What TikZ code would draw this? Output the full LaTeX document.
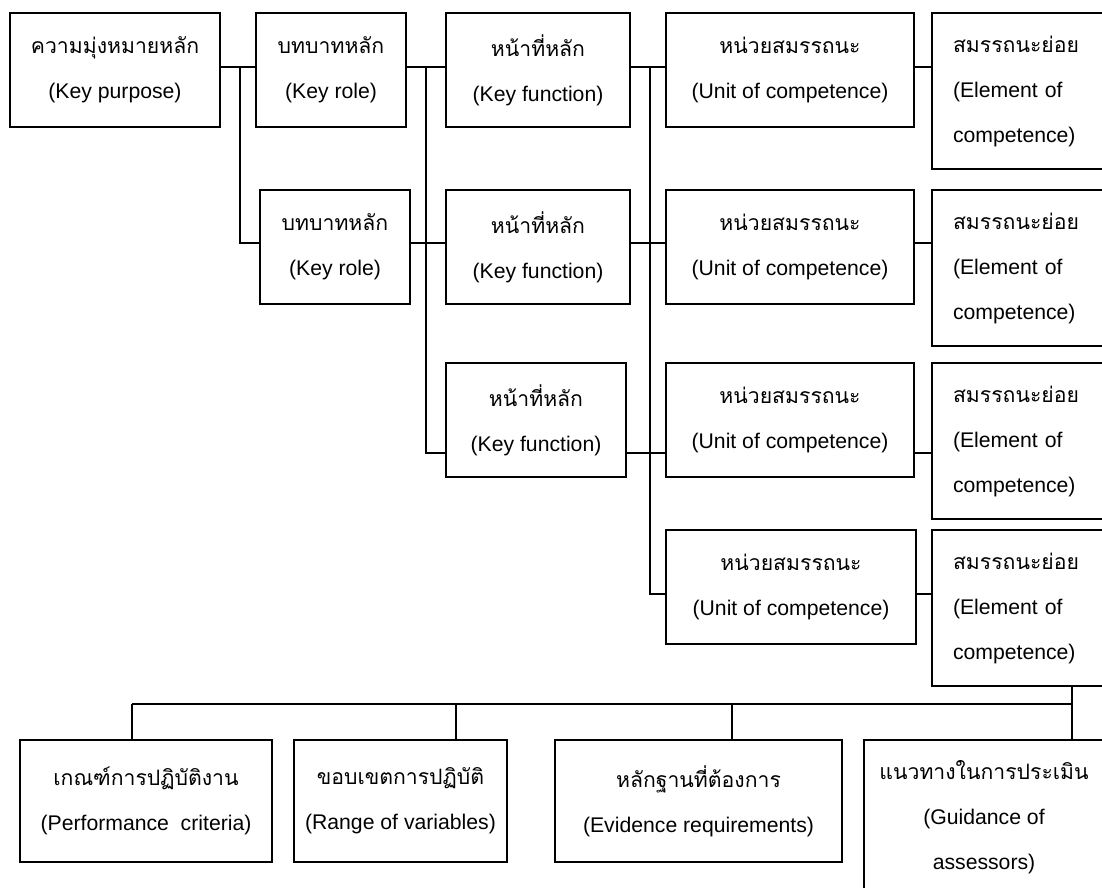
\documentclass[tikz,border=0pt]{standalone}
\usepackage{fontspec}
\setmainfont{Liberation Sans}
\newfontfamily\thaifont[Script=Thai]{Loma}
\usetikzlibrary{positioning}

\tikzset{
  box/.style={draw, line width=0.9pt, align=center, inner sep=0pt,
    font=\fontsize{10.6}{22.5}\selectfont},
  elbox/.style={box, align=left, text width=69pt, inner xsep=10.5pt,
    minimum width=90pt, minimum height=78pt},
  link/.style={line width=0.9pt}
}

\begin{document}
\begin{tikzpicture}[x=0.5pt,y=-0.5pt]
  \useasboundingbox (0,0) rectangle (1102,888);
  \clip (0,0) rectangle (1102,888);
  % Key purpose
  \node[box,minimum width=105pt,minimum height=57pt] (A) at (115,70)
    {{\thaifont ความมุ่งหมายหลัก}\\(Key purpose)};
  % Key roles
  \foreach \n/\x/\y in {R1/331/70, R2/335/247}{
    \node[box,minimum width=75pt,minimum height=57pt] (\n) at (\x,\y)
      {{\thaifont บทบาทหลัก}\\(Key role)};
  }
  % Key functions
  \foreach \n/\x/\y/\w in {F1/538/70/92, F2/538/247/92, F3/536/420/90}{
    \node[box,minimum width=\w pt,minimum height=57pt] (\n) at (\x,\y)
      {{\thaifont หน้าที่หลัก}\\(Key function)};
  }
  % Units of competence
  \foreach \n/\x/\y/\w in {U1/790/70/124, U2/790/247/124, U3/790/420/124, U4/791/587/125}{
    \node[box,minimum width=\w pt,minimum height=57pt] (\n) at (\x,\y)
      {{\thaifont หน่วยสมรรถนะ}\\(Unit of competence)};
  }
  % Elements of competence
  \foreach \n/\y in {E1/91, E2/268, E3/441, E4/608}{
    \node[elbox] (\n) at (1022,\y)
      {{\thaifont สมรรถนะย่อย}\\(Element of\\competence)};
  }
  % Bottom row
  \node[box,minimum width=126pt,minimum height=61pt] (B1) at (146,801)
    {{\thaifont เกณฑ์การปฏิบัติงาน}\\(Performance\ \ criteria)};
  \node[box,minimum width=106.5pt,minimum height=61pt] (B2) at (400.5,801)
    {{\thaifont ขอบเขตการปฏิบัติ}\\(Range of variables)};
  \node[box,minimum width=143.5pt,minimum height=61pt] (B3) at (698.5,801)
    {{\thaifont หลักฐานที่ต้องการ}\\(Evidence requirements)};
  \node[box,minimum width=120pt,minimum height=77pt] (B4) at (984,817)
    {{\thaifont แนวทางในการประเมิน}\\(Guidance of\\assessors)};

  % Rows and trunks
  \coordinate (y1) at (0,67);
  \coordinate (y2) at (0,243);
  \coordinate (y3) at (0,453);
  \coordinate (y4) at (0,594);
  \coordinate (t1) at (240,0);
  \coordinate (t2) at (426,0);
  \coordinate (t3) at (650,0);
  \coordinate (d1) at (132,704);
  \coordinate (d2) at (456,704);
  \coordinate (d3) at (732,704);
  \coordinate (d4) at (1072,704);

  % Connectors
  \draw[link] (A.east |- y1) -- (R1.west |- y1);
  \draw[link] (t1 |- y1) |- (R2.west |- y2);
  \draw[link] (t2 |- y1) |- (F3.west |- y3);
  \draw[link] (t3 |- y1) |- (U4.west |- y4);
  \foreach \a/\b/\r in {R1/F1/y1, R2/F2/y2, F1/U1/y1, F2/U2/y2, F3/U3/y3,
    U1/E1/y1, U2/E2/y2, U3/E3/y3, U4/E4/y4}
    \draw[link] (\a.east |- \r) -- (\b.west |- \r);
  \draw[link] (E4.south -| d4) -- (d4);
  \draw[link] (d1) -- (d4);
  \foreach \d/\b in {d1/B1, d2/B2, d3/B3, d4/B4}
    \draw[link] (\d) -- (\d |- \b.north);
\end{tikzpicture}
\end{document}
